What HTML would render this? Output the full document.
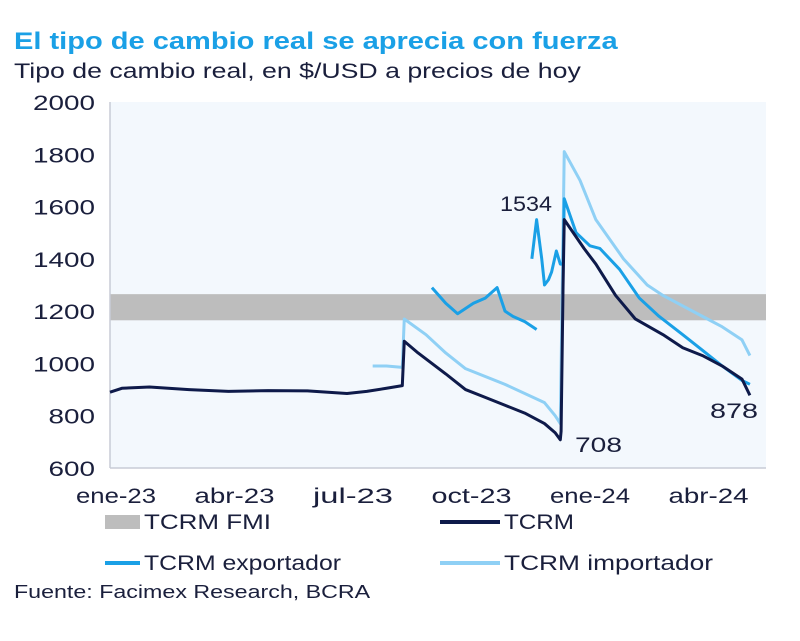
<!DOCTYPE html>
<html><head><meta charset="utf-8"><style>
body{margin:0;background:#fff;width:800px;height:641px;overflow:hidden;font-family:"Liberation Sans",sans-serif}
.t{position:absolute;white-space:nowrap;transform-origin:0 0}
</style></head><body>
<div class="t" style="left:14px;top:28px;font-size:24px;font-weight:bold;color:#1aa0e6;transform:scaleX(1.21)">El tipo de cambio real se aprecia con fuerza</div>
<div class="t" style="left:14px;top:60px;font-size:21px;color:#1a1f3c;transform:scaleX(1.27)">Tipo de cambio real, en $/USD a precios de hoy</div>
<div class="t" style="left:14px;top:582px;font-size:18px;color:#1a1f3c;transform:scaleX(1.29)">Fuente: Facimex Research, BCRA</div>
<svg id="c" width="800" height="641" style="position:absolute;left:0;top:0"></svg>
<script>
const yTicks=[600,800,1000,1200,1400,1600,1800,2000];
const xLabels=["ene-23","abr-23","jul-23","oct-23","ene-24","abr-24"];
const xLabelMonths=[0,3,6,9,12,15];
const bandRange=[1165,1265];
const tcrmM=[0,0.3,1,2,3,4,5,6,6.5,7,7.4,7.45,7.8,8.5,9,9.5,10,10.5,11,11.27,11.4,11.42,11.47,11.5,12,12.3,12.8,13.3,14,14.5,15,15.5,16,16.2];
const tcrmV=[890,905,910,900,893,896,895,885,893,905,915,1085,1040,960,900,870,840,810,770,735,708,740,1300,1550,1440,1380,1260,1170,1110,1060,1030,990,940,878];
const impM=[6.65,7.0,7.4,7.45,8,8.5,9,10,11,11.27,11.4,11.47,11.5,11.9,12.3,13,13.6,14,14.5,15,15.5,16,16.2];
const impV=[990,990,985,1170,1110,1040,980,920,850,800,770,1500,1810,1700,1550,1400,1300,1260,1220,1180,1140,1090,1030];
const exp1M=[8.15,8.5,8.8,9.2,9.5,9.8,10.0,10.2,10.5,10.8];
const exp1V=[1290,1230,1190,1230,1250,1290,1200,1180,1160,1130];
const exp2M=[10.68,10.8,10.93,11.0,11.1,11.18,11.3,11.4,11.47];
const exp2V=[1400,1550,1400,1300,1320,1350,1430,1380,1380];
const exp3M=[11.47,11.5,11.8,12.15,12.4,12.9,13.4,13.9,14.5,15.0,15.5,16.0,16.2];
const exp3V=[1380,1630,1500,1450,1440,1360,1250,1180,1110,1050,990,935,920];
const X=m=>110+m*39.5, Y=v=>468-(v-600)*(366/1400);
const s=document.getElementById('c');const NS="http://www.w3.org/2000/svg";
function mk(t,a,p){const e=document.createElementNS(NS,t);for(const k in a)e.setAttribute(k,a[k]);(p||s).appendChild(e);return e;}
let e=mk('rect',{x:110,y:Y(2000),width:656,height:Y(600)-Y(2000),fill:'#f3f8fd'});


e=mk('rect',{x:110,y:Y(bandRange[1]),width:656,height:Y(bandRange[0])-Y(bandRange[1]),fill:'#bdbdbd'});


mk('line',{x1:110,y1:Y(2000),x2:110,y2:Y(600),stroke:'#c8ccd6','stroke-width':1.5});
mk('line',{x1:110,y1:Y(600),x2:766,y2:Y(600),stroke:'#c8ccd6','stroke-width':1.5});
function txt(str,x,y,len,anchor){const t=mk('text',{x:x,y:y,'text-anchor':anchor||'start','font-size':21,fill:'#1a1f3c','font-family':'Liberation Sans',textLength:len,lengthAdjust:'spacingAndGlyphs'});t.textContent=str;return t;}
yTicks.forEach(v=>{const t=txt(String(v),95,Y(v)+8,String(v).length*15.5,'end');

});
xLabels.forEach((l,i)=>{const t=txt(l,X(xLabelMonths[i])+6,503,80,'middle');

});
function line(M,V,c,w,n){const p=mk('polyline',{points:M.map((m,i)=>X(m)+','+Y(V[i])).join(' '),fill:'none',stroke:c,'stroke-width':w,'stroke-linejoin':'round'});

}
line(impM,impV,'#8fd0f5',3,'tcrm-importador-line');
line(exp1M,exp1V,'#1aa0e6',3,'tcrm-exportador-line');
line(exp2M,exp2V,'#1aa0e6',3,'tcrm-exportador-line');
line(exp3M,exp3V,'#1aa0e6',3,'tcrm-exportador-line');
line(tcrmM,tcrmV,'#0e1a4a',3,'tcrm-line');
[["1534",500,211,52],["708",575,452,47],["878",710,418,48]].forEach(a=>{const t=txt(a[0],a[1],a[2],a[3]);

});
const leg=[["TCRM FMI",'#bdbdbd',14,105,522,127],["TCRM",'#0e1a4a',4,440,522,70],["TCRM exportador",'#1aa0e6',4,105,563,197],["TCRM importador",'#8fd0f5',4,440,563,209]];
leg.forEach(l=>{const g=mk('g',{});


const sw=l[3]===440?60:35;
mk('rect',{x:l[3],y:l[4]-l[2]/2,width:sw,height:l[2],fill:l[1]},g);
const t=txt(l[0],l[3]+sw+4,l[4]+7,l[5]);g.appendChild(t);});
</script>
</body></html>
